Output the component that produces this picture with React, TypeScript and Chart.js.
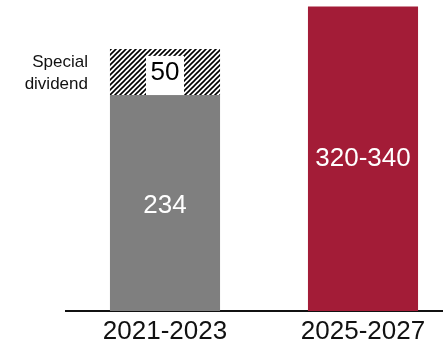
import React, { useEffect, useRef } from "react";
import { Chart, registerables } from "chart.js";

Chart.register(...registerables);

const categories = ["2021-2023", "2025-2027"];
const baseValues = [234, 330];
const specialValues = [50, null];
const barLabels = ["234", "320-340"];
const specialLabel = "50";
const specialNote = ["Special", "dividend"];

const GRAY = "#7f7f7f";
const RED = "#a31c37";
const FONT = "'Liberation Sans', Arial, sans-serif";

function makeHatch(): CanvasPattern | string {
  const c = document.createElement("canvas");
  const s = 5;
  c.width = s;
  c.height = s;
  const ctx = c.getContext("2d");
  if (!ctx) return "#fff";
  ctx.fillStyle = "#fff";
  ctx.fillRect(0, 0, s, s);
  ctx.strokeStyle = "#000";
  ctx.lineWidth = 1.6;
  ctx.beginPath();
  ctx.moveTo(-1, s + 1);
  ctx.lineTo(s + 1, -1);
  ctx.moveTo(-1, 1);
  ctx.lineTo(1, -1);
  ctx.moveTo(s - 1, s + 1);
  ctx.lineTo(s + 1, s - 1);
  ctx.stroke();
  const p = ctx.createPattern(c, "repeat");
  return p || "#fff";
}

const labelPlugin = {
  id: "barLabels",
  afterDatasetsDraw(chart: any) {
    const ctx = chart.ctx;
    const base = chart.getDatasetMeta(0).data;
    const spec = chart.getDatasetMeta(1).data;
    ctx.save();
    ctx.font = `26px ${FONT}`;
    ctx.textAlign = "center";
    ctx.textBaseline = "middle";
    // base labels
    const b0 = base[0];
    ctx.fillStyle = "#fff";
    ctx.fillText(barLabels[0], b0.x, b0.y + 111);
    const b1 = base[1];
    ctx.fillText(barLabels[1], b1.x, (b1.y + b1.base) / 2);
    // special segment
    const s0 = spec[0];
    const top = s0.y;
    const bottom = s0.base;
    const cy = (top + bottom) / 2;
    ctx.fillStyle = "#fff";
    ctx.fillRect(s0.x - 19, top + 7, 38, bottom - top - 7);
    ctx.fillStyle = "#000";
    ctx.fillText(specialLabel, s0.x, cy + 1);
    // note
    ctx.font = `17px ${FONT}`;
    ctx.textAlign = "right";
    const left = s0.x - s0.width / 2;
    ctx.fillStyle = "#111";
    ctx.fillText(specialNote[0], left - 22, cy - 10);
    ctx.fillText(specialNote[1], left - 22, cy + 12);
    ctx.restore();
  },
};

export default function App() {
  const ref = useRef<HTMLCanvasElement | null>(null);
  useEffect(() => {
    if (!ref.current) return;
    const chart = new Chart(ref.current, {
      type: "bar",
      data: {
        labels: categories,
        datasets: [
          {
            label: "Base",
            data: baseValues,
            backgroundColor: [GRAY, RED],
            barPercentage: 0.556,
            categoryPercentage: 1,
          },
          {
            label: "Special dividend",
            data: specialValues as any,
            backgroundColor: makeHatch() as any,
            barPercentage: 0.556,
            categoryPercentage: 1,
          },
        ],
      },
      options: {
        responsive: false,
        animation: false,
        layout: { padding: { left: 66, right: 0, top: 0, bottom: 0 } },
        plugins: { legend: { display: false }, tooltip: { enabled: false } },
        scales: {
          x: {
            stacked: true,
            grid: { display: false, drawTicks: false },
            border: { display: true, color: "#111", width: 2 },
            ticks: {
              color: "#111",
              font: { size: 26, family: FONT },
              padding: 5,
            },
            afterFit: (s: any) => {
              s.height = 40;
            },
          },
          y: {
            stacked: true,
            display: false,
            min: 0,
            max: 337,
          },
        },
      },
      plugins: [labelPlugin],
    });
    return () => chart.destroy();
  }, []);
  return (
    <div
      style={{
        position: "fixed",
        left: 0,
        top: 0,
        width: 443,
        height: 351,
        overflow: "hidden",
        background: "#fff",
      }}
    >
      <canvas ref={ref} width={462} height={351} style={{ width: 462, height: 351 }} />
    </div>
  );
}
